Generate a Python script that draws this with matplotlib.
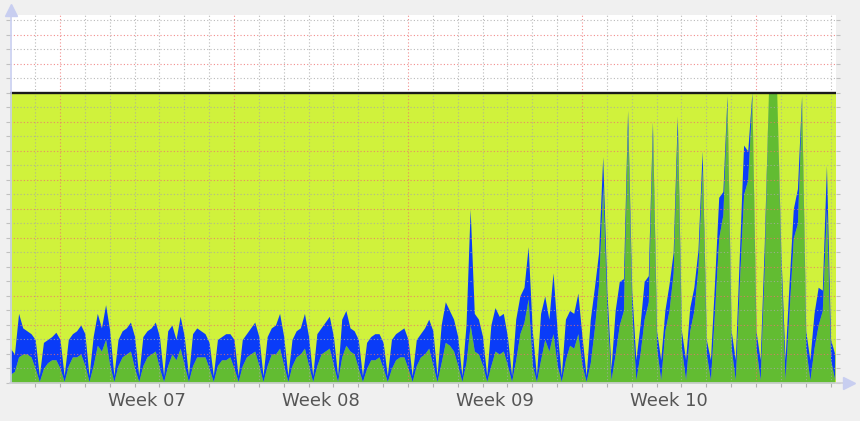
import numpy as np
import matplotlib.pyplot as plt

# 4-hourly samples, first one is Saturday 00:00 before week 07
# one row per day: 00h 04h 08h 12h 16h 20h
green_top = [
    3, 4, 9, 10, 10, 9,
    5, 0.5, 5, 7, 8, 8,
    5, 0.5, 6, 9, 9, 10,
    6, 0.5, 6, 13, 11, 15,
    6, 0.5, 6, 9, 10, 11,
    5, 0.5, 6, 9, 10, 11,
    5, 0.5, 6, 10, 8, 12,
    6, 0.5, 6, 9, 9, 9,
    5, 0.5, 6, 8, 8, 9,
    5, 0.5, 6, 9, 10, 11,
    6, 0.5, 6, 10, 10, 12,
    6, 0.5, 6, 9, 10, 12,
    6, 0.5, 6, 10, 11, 12,
    6, 0.5, 9, 13, 11, 10,
    5, 0.5, 5, 8, 8, 9,
    5, 0.5, 5, 8, 9, 9,
    5, 0.5, 6, 9, 10, 12,
    6, 0.5, 7, 14, 13, 11,
    6, 0.5, 7, 20, 11, 10,
    6, 0.5, 6, 11, 10, 11,
    6, 0.5, 8, 17, 21, 29,
    6, 0.5, 8, 15, 11, 17,
    6, 0.5, 8, 13, 12, 17,
    6, 0.5, 7, 19, 34, 68,
    25, 1, 10, 20, 25, 88,
    25, 1, 10, 22, 28, 85,
    12, 1, 18, 25, 38, 86,
    12, 1, 18, 25, 40, 74,
    10, 1, 25, 50, 58, 96,
    12, 1, 35, 65, 70, 98,
    12, 1, 40, 100, 100, 100,
    40, 1, 25, 50, 55, 96,
    12, 1, 12, 20, 25, 60,
    8, 1,
]
blue_top = [
    12, 10, 24, 19, 18, 17,
    15, 2.5, 14, 15, 16, 17.5,
    15, 2.5, 15, 17, 18, 20,
    17, 2.5, 16, 24, 19, 27,
    18, 2.5, 15, 18, 19, 21,
    16, 2.5, 16, 18, 19, 21,
    16, 2.5, 18, 20, 15, 23,
    16, 2.5, 17, 19, 18, 17,
    14, 2.5, 15, 16, 17, 17,
    15, 2.5, 15, 17, 19, 21,
    16, 2.5, 16, 19, 20, 24,
    16, 2.5, 15, 18, 19, 24,
    16, 2.5, 17, 19, 21, 23,
    16, 2.5, 22, 25, 19, 18,
    15, 2.5, 14, 16, 17, 17,
    14, 2.5, 15, 17, 18, 19,
    15, 2.5, 15, 17, 19, 22,
    18, 2.5, 20, 28, 25, 22,
    16, 2.5, 20, 60, 24, 22,
    16, 2.5, 20, 26, 23, 24,
    16, 2.5, 22, 30, 33, 47,
    18, 2.5, 24, 30, 22, 38,
    18, 2.5, 22, 25, 24, 31,
    16, 2.5, 22, 33, 45, 78,
    32, 5, 25, 35, 36, 94,
    32, 8, 20, 35, 37, 90,
    18, 8, 25, 34, 45, 92,
    18, 8, 26, 33, 46, 80,
    15, 8, 35, 64, 66, 99,
    18, 8, 45, 82, 80, 100,
    18, 8, 48, 100, 100, 100,
    45, 8, 35, 60, 67, 99,
    18, 8, 24, 33, 32, 75,
    15, 10,
]
limit = 100
week_labels = ['Week 07', 'Week 08', 'Week 09', 'Week 10']
week_starts = [2, 9, 16, 23, 30]  # day offsets of the Mondays

yellow = '#d0f23c'
green = '#62bc32'
blue = '#0a3cf8'

t = np.arange(len(green_top)) * 4 / 24
x_end = 33.21

fig = plt.figure(figsize=(8.6, 4.21), dpi=100, facecolor='#f0f0f0')
ax = fig.add_axes([10.3 / 860, 38 / 421, 825.5 / 860, 368.5 / 421])
ax.set_facecolor('white')

ax.fill_between([0, x_end], 0, limit, color=yellow, lw=0, zorder=1)
ax.fill_between(t, 0, green_top, color=green, lw=0, zorder=2)
ax.fill_between(t, green_top, blue_top, color=blue, lw=0, zorder=2)

# rrdtool-like dotted grid on top of the areas
for v in range(5, 126, 5):
    c = '#ee7070' if v % 10 == 0 else '#a8a8a8'
    ax.axhline(v, color=c, lw=0.8, ls=(0, (1, 2)), alpha=0.8, zorder=3)
for d in range(1, 34):
    c = '#ee7070' if d in week_starts else '#a8a8a8'
    ax.axvline(d, color=c, lw=0.8, ls=(0, (1, 2)), alpha=0.8, zorder=3)
ax.axhline(limit, color='#1a1a1a', lw=1.7, zorder=4)

ax.set_xlim(0, x_end)
ax.set_ylim(0, 127)
ax.set_xticks(range(1, 34))
ax.set_yticks(range(0, 126, 5))
ax.set_xticklabels([])
ax.set_yticklabels([])
ax.tick_params(axis='x', length=3, color='#b0b0b0', width=0.8)
ax.tick_params(axis='y', length=3, color='#c0c0c0', width=0.8, right=True)
for s in ax.spines.values():
    s.set_visible(False)

for i, lab in enumerate(week_labels):
    ax.text(week_starts[i] + 3.5, -6.3, lab, ha='center', va='center',
            fontsize=13, color='#555555', clip_on=False)

# axes with arrows
ax_col = '#c8cef0'
fig.add_artist(plt.Line2D([10.8 / 860, 10.8 / 860], [38 / 421, 410 / 421],
                          color=ax_col, lw=1.2, transform=fig.transFigure))
fig.add_artist(plt.Line2D([10.8 / 860], [411 / 421], marker='^', ms=8,
                          color=ax_col, transform=fig.transFigure))
fig.add_artist(plt.Line2D([10 / 860, 848 / 860], [38 / 421, 38 / 421],
                          color='#d0d0d8', lw=1.2, transform=fig.transFigure))
fig.add_artist(plt.Line2D([849 / 860], [38 / 421], marker='>', ms=8,
                          color=ax_col, transform=fig.transFigure))

fig.savefig('out.png', dpi=100, facecolor=fig.get_facecolor())
